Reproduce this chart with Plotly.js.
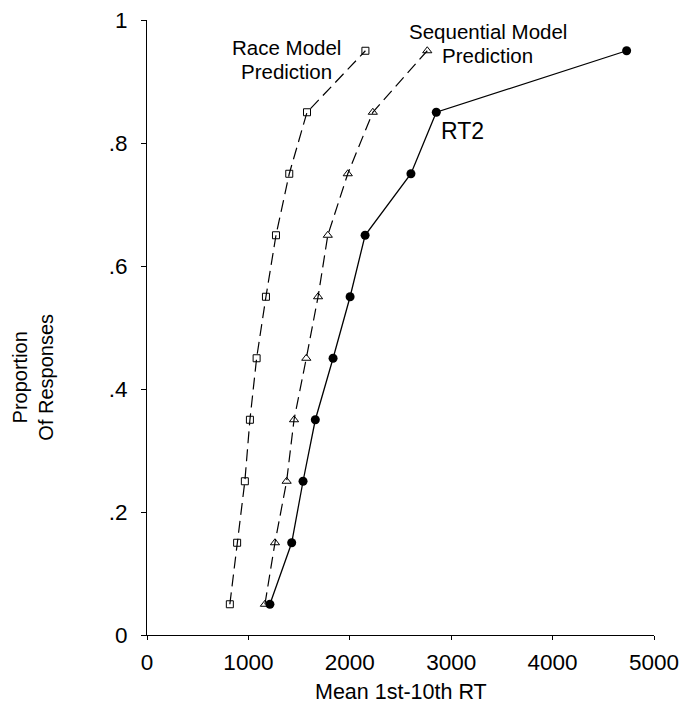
<!DOCTYPE html>
<html>
<head>
<meta charset="utf-8">
<script src="https://cdn.plot.ly/plotly-3.0.1.min.js"></script>
<style>
  html, body { margin: 0; padding: 0; background: #fff; }
  #chart { width: 694px; height: 706px; }
</style>
</head>
<body>
<div id="chart"></div>
<script>
// Proportion of responses (cumulative bins)
const proportions = [0.05, 0.15, 0.25, 0.35, 0.45, 0.55, 0.65, 0.75, 0.85, 0.95];
// Mean 1st-10th RT (ms)
const raceModelRT = [817, 889, 965, 1015, 1081, 1173, 1272, 1403, 1578, 2154];
const sequentialModelRT = [1163, 1262, 1377, 1450, 1571, 1687, 1783, 1980, 2227, 2764];
const rt2 = [1212, 1427, 1539, 1660, 1835, 2003, 2151, 2603, 2853, 4730];

const xTickVals = [0, 1000, 2000, 3000, 4000, 5000];
const xTickText = ['0', '1000', '2000', '3000', '4000', '5000'];
const yTickVals = [0, 0.2, 0.4, 0.6, 0.8, 1];
const yTickText = ['0', '.2', '.4', '.6', '.8', '1'];

const FONT = 'Arial, "Liberation Sans", Helvetica, sans-serif';

const traces = [
  {
    x: raceModelRT, y: proportions, type: 'scatter', mode: 'lines+markers',
    name: 'Race Model Prediction',
    line: { color: '#000', width: 1.2, dash: '12px,6px' },
    marker: { symbol: 'square-open', size: 7, color: '#000', line: { width: 1 } }
  },
  {
    x: sequentialModelRT, y: proportions, type: 'scatter', mode: 'lines+markers',
    name: 'Sequential Model Prediction',
    line: { color: '#000', width: 1.2, dash: '12px,6px' },
    marker: { symbol: 'triangle-up-open', size: 8, color: '#000', line: { width: 1 } }
  },
  {
    x: rt2, y: proportions, type: 'scatter', mode: 'lines+markers',
    name: 'RT2',
    line: { color: '#000', width: 1.3 },
    marker: { symbol: 'circle', size: 9, color: '#000' }
  }
];

const layout = {
  width: 694, height: 706,
  margin: { l: 147, r: 40, t: 20, b: 71 },
  paper_bgcolor: '#fff', plot_bgcolor: '#fff',
  showlegend: false,
  font: { family: FONT, color: '#000', size: 20 },
  xaxis: {
    range: [0, 5000], tickvals: xTickVals, ticktext: xTickText,
    showgrid: false, zeroline: false, showline: true, linecolor: '#000', linewidth: 1,
    ticks: 'outside', ticklen: 4, tickwidth: 1, tickcolor: '#000',
    ticklabelstandoff: 3,
    tickfont: { family: FONT, size: 22.5, color: '#000' }
  },
  yaxis: {
    range: [0, 1], tickvals: yTickVals, ticktext: yTickText,
    showgrid: false, zeroline: false, showline: true, linecolor: '#000', linewidth: 1,
    ticks: 'outside', ticklen: 5, tickwidth: 1, tickcolor: '#000',
    ticklabelstandoff: 9,
    tickfont: { family: FONT, size: 22.5, color: '#000' }
  },
  annotations: [
    { text: 'Mean 1st-10th RT', xref: 'paper', yref: 'paper', x: 0.5, y: -0.1148,
      xanchor: 'center', yanchor: 'bottom', showarrow: false, font: { size: 21.5 } },
    { text: 'Proportion<br>Of Responses', xref: 'paper', yref: 'paper', x: -0.225, y: 0.42,
      xanchor: 'center', yanchor: 'middle', textangle: -90, showarrow: false, font: { size: 20 } },
    { text: 'Race Model', xref: 'x', yref: 'y', x: 1380, y: 0.956,
      xanchor: 'center', yanchor: 'middle', showarrow: false, font: { size: 20.5 } },
    { text: 'Prediction', xref: 'x', yref: 'y', x: 1380, y: 0.917,
      xanchor: 'center', yanchor: 'middle', showarrow: false, font: { size: 20.5 } },
    { text: 'Sequential Model', xref: 'x', yref: 'y', x: 2566, y: 0.982,
      xanchor: 'left', yanchor: 'middle', showarrow: false, font: { size: 20.5 } },
    { text: 'Prediction', xref: 'x', yref: 'y', x: 2892, y: 0.943,
      xanchor: 'left', yanchor: 'middle', showarrow: false, font: { size: 20.5 } },
    { text: 'RT2', xref: 'x', yref: 'y', x: 2882, y: 0.819,
      xanchor: 'left', yanchor: 'middle', showarrow: false, font: { size: 23 } }
  ]
};

Plotly.newPlot('chart', traces, layout, { staticPlot: true, displayModeBar: false });
</script>
</body>
</html>
